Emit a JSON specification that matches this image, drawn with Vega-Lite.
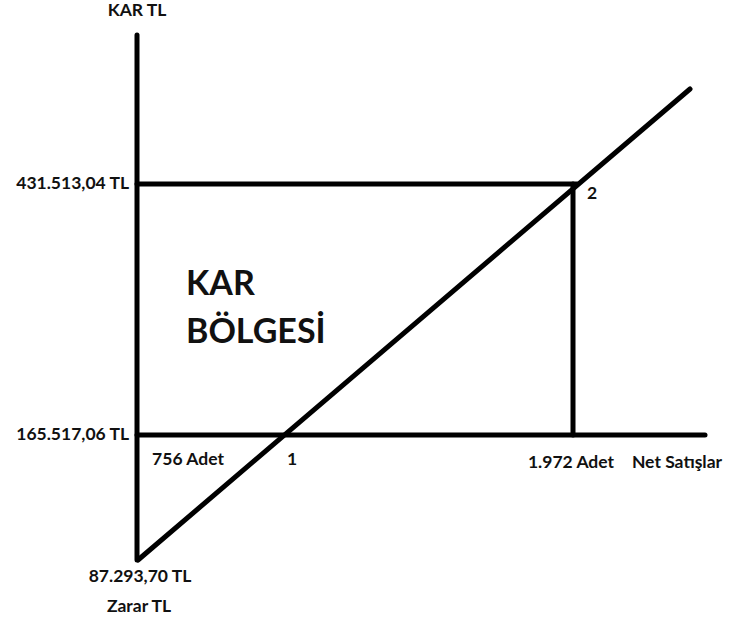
{
  "$schema": "https://vega.github.io/schema/vega-lite/v6.json",
  "width": 734,
  "height": 621,
  "padding": 0,
  "autosize": {"type": "fit", "contains": "padding"},
  "background": "white",
  "config": {"view": {"stroke": null}},
  "datasets": {
    "segments": [
      {"part": "dikey eksen", "x1": 137, "y1": 586, "x2": 137, "y2": 61},
      {"part": "431.513,04 TL çizgisi", "x1": 137, "y1": 437, "x2": 577, "y2": 437},
      {"part": "165.517,06 TL çizgisi", "x1": 137, "y1": 186, "x2": 705, "y2": 186},
      {"part": "1.972 Adet dikey", "x1": 573, "y1": 437, "x2": 573, "y2": 186},
      {"part": "satış doğrusu", "x1": 138, "y1": 61, "x2": 690, "y2": 532}
    ],
    "valueLabels": [
      {"label": "431.513,04 TL", "x": 129, "y": 437},
      {"label": "165.517,06 TL", "x": 129, "y": 186}
    ],
    "labels": [
      {"label": "KAR TL", "x": 137, "y": 610},
      {"label": "756 Adet", "x": 188, "y": 161},
      {"label": "1", "x": 292, "y": 161},
      {"label": "87.293,70 TL", "x": 140, "y": 44},
      {"label": "Zarar TL", "x": 139, "y": 14},
      {"label": "2", "x": 592, "y": 427},
      {"label": "1.972 Adet", "x": 571, "y": 158},
      {"label": "Net Satışlar", "x": 677, "y": 158}
    ],
    "bigLabels": [
      {"label": "KAR", "x": 186, "y": 326},
      {"label": "BÖLGESİ", "x": 186, "y": 278}
    ]
  },
  "layer": [
    {
      "data": {"name": "segments"},
      "mark": {"type": "rule", "color": "black", "strokeWidth": 5, "strokeCap": "round"},
      "encoding": {
        "x": {"field": "x1", "type": "quantitative", "scale": {"domain": [0, 734], "nice": false, "zero": false}, "axis": null},
        "y": {"field": "y1", "type": "quantitative", "scale": {"domain": [0, 621], "nice": false, "zero": false}, "axis": null},
        "x2": {"field": "x2"},
        "y2": {"field": "y2"}
      }
    },
    {
      "data": {"name": "valueLabels"},
      "mark": {"type": "text", "font": "Lato", "fontWeight": "bold", "fontSize": 17.5, "align": "right", "baseline": "middle", "color": "#111"},
      "encoding": {
        "x": {"field": "x", "type": "quantitative"},
        "y": {"field": "y", "type": "quantitative"},
        "text": {"field": "label"}
      }
    },
    {
      "data": {"name": "labels"},
      "mark": {"type": "text", "font": "Lato", "fontWeight": "bold", "fontSize": 17.5, "align": "center", "baseline": "middle", "color": "#111"},
      "encoding": {
        "x": {"field": "x", "type": "quantitative"},
        "y": {"field": "y", "type": "quantitative"},
        "text": {"field": "label"}
      }
    },
    {
      "data": {"name": "bigLabels"},
      "mark": {"type": "text", "font": "Lato", "fontWeight": "bold", "fontSize": 34, "align": "left", "baseline": "alphabetic", "color": "#111"},
      "encoding": {
        "x": {"field": "x", "type": "quantitative"},
        "y": {"field": "y", "type": "quantitative"},
        "text": {"field": "label"}
      }
    }
  ]
}
